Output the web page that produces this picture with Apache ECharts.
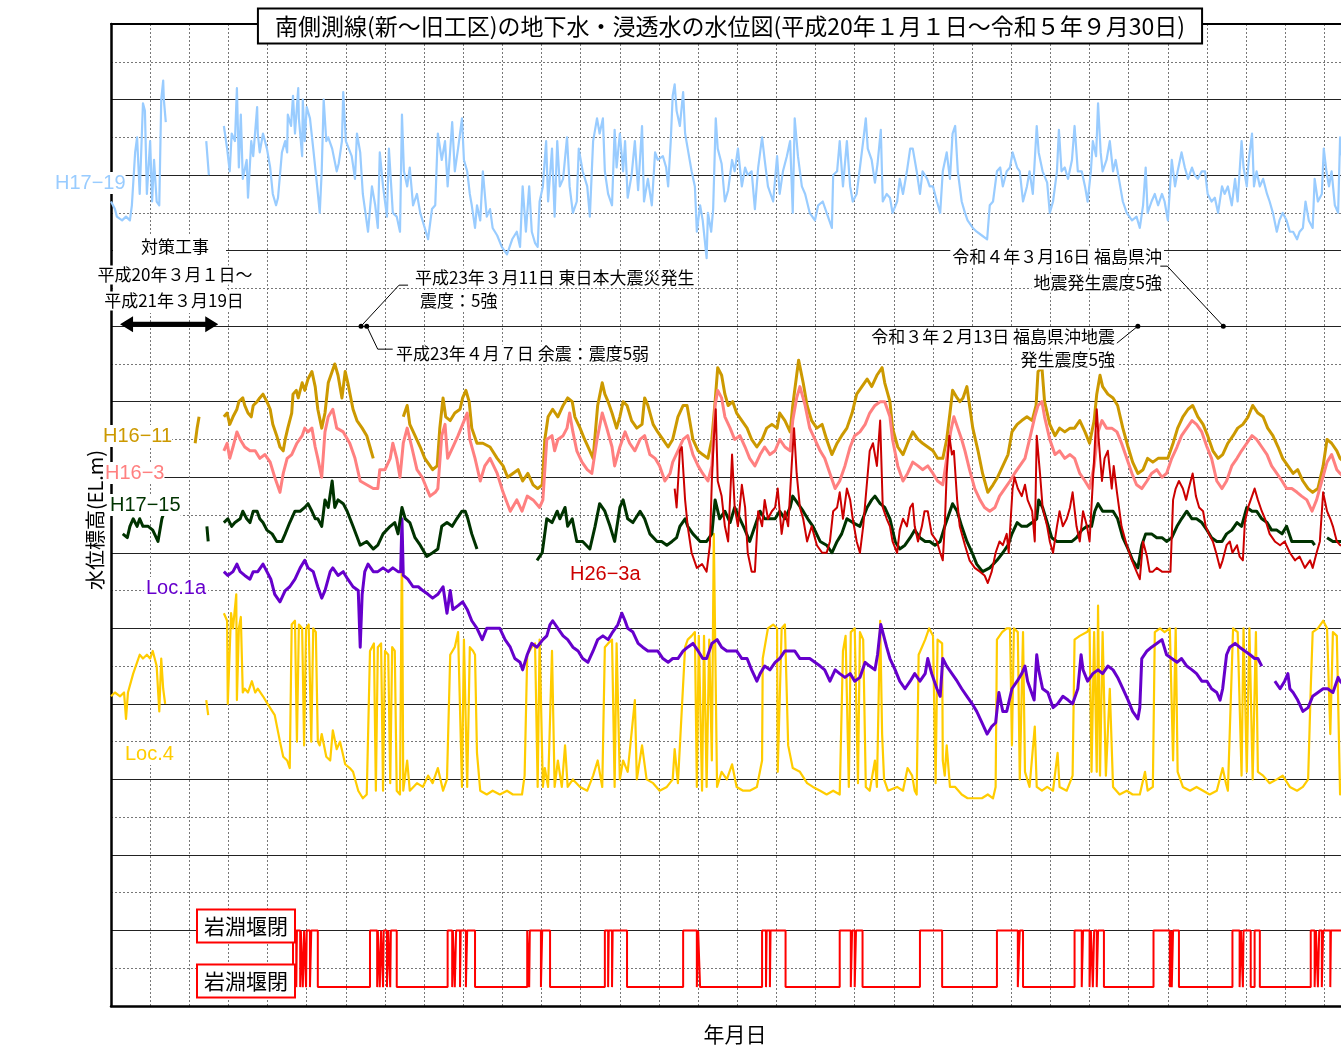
<!DOCTYPE html>
<html>
<head>
<meta charset="utf-8">
<script src="https://cdn.jsdelivr.net/npm/echarts@6/dist/echarts.min.js"></script>
<style>
html,body{margin:0;padding:0;background:#fff;overflow:hidden}
#chart{width:1341px;height:1049px}
</style>
</head>
<body>
<div id="chart"></div>
<script>
// Time axis: months elapsed since 2008-01-01 (0 .. 189 = 2023-09-30). Level axis: relative water level.
const X_MAX = 189;
const Y_MAX = 26;

// Observation wells, flat lists of [month, level] pairs; "null" marks a gap in the record.
const H17_19 = [0,21.3,0.6,21.1,0.9,20.9,1.7,20.8,2.3,20.9,2.9,20.8,3.2,21.2,3.7,22.6,4.0,23.0,4.4,21.5,4.9,23.9,5.2,23.7,5.5,21.5,6.0,22.9,6.3,21.3,6.6,22.4,7.0,21.3,7.4,21.2,7.7,24.0,8.0,24.5,8.1,24.0,8.4,23.4,11,null,14.6,22.9,15.0,22.0,16,null,
17.3,23.3,17.8,22.7,18.2,22.1,18.5,23.1,19.0,22.9,19.3,24.3,19.6,22.2,19.9,23.6,20.2,21.9,20.8,22.4,21.0,21.4,21.5,22.9,21.8,22.5,22.4,23.8,22.5,23.1,22.8,22.6,23.3,23.1,23.9,22.7,24.4,22.2,24.8,21.5,25.3,21.2,25.6,21.4,26.2,22.6,26.7,22.9,27.0,22.6,27.1,23.6,27.6,23.3,27.9,24.1,28.2,23.1,28.7,24.3,28.8,23.5,29.3,22.5,29.4,24.0,29.7,22.9,30.0,23.8,30.5,23.5,31.0,22.7,31.6,21.7,32.0,21.0,32.3,22.1,32.6,24.0,33.0,22.9,33.3,23.0,33.9,22.7,34.6,22.1,34.9,22.3,35.4,22.9,35.6,24.2,36.0,22.9,36.3,22.9,36.9,22.5,37.4,21.9,37.7,23.1,38.2,22.6,38.6,21.5,39.4,20.5,40.0,21.7,40.5,21.2,40.9,20.6,41.2,22.6,41.7,21.7,42.3,20.9,42.6,22.7,43.2,21.0,43.8,20.9,44.3,20.5,44.6,23.6,44.9,22.1,45.4,21.7,45.8,22.2,46.3,21.2,46.9,21.5,47.4,21.0,48.1,20.6,48.6,20.3,49.2,21.1,49.7,21.2,50.1,23.1,50.7,22.4,51.2,22.9,51.6,21.7,52.3,23.4,52.7,22.1,53.2,22.7,53.8,23.5,54.1,22.4,54.6,22.1,55.0,21.5,55.3,21.2,55.8,20.6,56.1,21.2,56.6,20.8,57.0,22.1,57.6,20.9,58.1,21.1,58.5,20.6,59.2,20.4,59.9,20.1,60.7,19.9,61.5,20.3,62.2,20.5,62.7,20.1,63.1,21.7,63.6,20.5,64.1,21.7,64.5,20.5,65.0,20.2,65.4,20.1,65.7,21.3,66.2,21.7,66.7,22.9,67.0,21.3,67.6,22.7,68.0,20.9,68.4,22.9,68.8,21.7,69.3,21.9,69.9,23.0,70.3,21.7,70.8,21.0,71.4,21.3,71.7,22.7,72.3,22.1,73.0,21.7,73.4,20.9,73.9,22.9,74.5,23.5,74.9,23.1,75.4,23.5,75.7,22.1,76.2,21.5,76.8,21.2,77.2,23.2,77.5,22.2,78.0,23.1,78.5,22.1,78.8,22.9,79.2,21.4,79.8,22.0,80.3,22.9,80.8,21.6,81.4,23.3,81.7,21.3,82.3,21.9,82.9,21.2,83.4,22.6,83.8,22.4,84.6,22.5,85.1,22.2,85.4,21.7,85.8,22.9,86.1,24.1,86.4,24.4,86.7,23.7,87.2,23.3,87.7,24.2,88.0,23.1,88.4,22.7,89.0,22.1,89.5,21.7,89.8,20.5,90.3,21.2,90.7,20.8,91.3,19.8,91.5,21.0,92.0,20.5,92.3,21.1,92.7,23.5,93.0,22.7,93.6,22.3,94.1,21.3,94.6,21.6,95.2,22.4,95.6,22.1,96.1,22.7,96.7,21.7,97.2,22.2,97.6,22.0,98.2,22.1,98.7,21.1,99.2,22.2,99.8,23.0,100.2,22.4,100.7,21.7,101.5,21.3,102.1,22.5,102.5,21.5,103.0,22.1,103.6,22.5,104.1,22.9,104.5,21.0,104.8,23.5,105.3,22.5,105.9,21.7,106.4,21.5,107.1,21.0,107.9,20.8,108.4,21.2,109.1,21.3,109.9,20.9,110.5,20.6,110.7,22.0,111.3,22.1,111.7,22.9,112.2,21.7,112.8,22.9,113.3,21.7,113.7,21.3,114.3,21.5,114.8,22.2,115.3,22.9,115.7,23.5,116.0,22.7,116.6,22.4,117.1,21.8,117.5,22.3,118.0,23.2,118.3,21.3,118.9,21.5,119.4,21.4,119.8,21.0,120.5,21.3,120.9,21.9,121.4,21.5,122.0,22.1,122.5,22.7,122.9,22.7,123.5,22.1,124.0,21.5,124.4,22.1,125.1,21.9,125.5,21.7,126.0,21.7,126.6,21.3,127.1,21.0,127.5,22.1,128.1,22.6,128.6,21.9,129.0,23.1,129.4,23.3,129.8,22.1,130.4,21.3,130.9,21.0,131.3,20.8,132.1,20.6,132.7,20.5,133.5,20.4,134.3,20.3,134.7,21.2,135.2,21.3,135.8,22.1,136.3,22.2,136.7,21.7,137.3,22.1,137.8,22.2,138.2,22.6,138.9,22.2,139.3,22.1,139.8,21.3,140.4,21.7,140.8,22.1,141.3,21.5,141.9,23.3,142.2,22.6,142.8,22.1,143.5,21.8,143.9,21.0,144.4,21.3,145.0,22.1,145.3,23.2,145.7,22.1,146.2,22.2,146.7,21.9,147.3,22.4,147.7,23.3,148.2,22.1,148.8,22.1,149.3,21.7,149.7,21.3,150.2,22.1,150.5,22.9,151.0,22.5,151.3,23.9,151.7,22.6,152.0,22.1,152.6,22.4,153.1,22.9,153.6,22.1,154.0,22.4,154.5,21.9,155.1,21.3,155.7,21.0,156.5,20.8,157.2,20.9,157.7,20.6,158.2,21.2,158.6,22.2,158.9,21.0,159.5,21.3,160.0,21.5,160.5,21.2,161.1,21.5,161.5,21.3,162.0,20.8,162.6,22.4,163.1,21.7,163.5,22.1,164.1,22.6,164.6,22.2,165.1,21.9,165.7,22.2,166.1,22.0,166.6,21.9,167.2,22.1,167.7,22.1,168.1,21.5,168.7,21.3,169.2,21.4,169.7,21.0,170.3,21.7,170.7,21.5,171.2,21.7,171.8,21.2,172.3,21.9,172.7,21.3,173.3,22.9,173.6,22.2,174.1,21.7,174.4,22.4,174.9,23.1,175.2,21.7,175.6,22.1,176.1,21.7,176.6,21.9,177.2,21.5,177.6,21.3,178.1,21.0,178.7,20.5,179.1,20.8,179.6,21.0,180.2,20.8,180.7,20.5,181.2,20.5,181.8,20.3,182.2,20.5,182.7,20.6,183.1,21.3,183.6,20.8,184.2,20.6,184.5,21.9,185.0,21.3,185.6,21.5,185.9,22.7,186.3,22.1,186.7,21.7,187.1,22.1,187.6,21.2,188.1,21.0,188.4,23.0,189,22.0];

const H16_11 = [12.9,14.9,13.2,15.3,13.5,15.6,15,null,
17.3,15.6,17.8,15.7,18.2,15.4,18.7,15.6,19.3,15.8,19.6,16.0,20.2,16.1,20.5,15.9,21.0,15.7,21.5,15.6,21.8,15.9,22.4,16.0,22.8,16.1,23.3,16.2,23.9,16.0,24.4,15.8,24.8,15.4,25.4,15.1,25.9,14.8,26.4,14.7,26.7,15.0,27.1,15.3,27.7,15.7,27.9,16.2,28.4,16.3,28.7,16.1,29.3,16.5,29.7,16.3,30.2,16.6,30.8,16.8,31.3,16.4,31.7,15.8,32.3,15.3,32.8,15.7,33.3,16.5,33.9,16.8,34.3,17.0,34.8,16.7,35.4,16.1,35.9,16.8,36.3,16.5,37.1,15.8,37.7,15.5,38.5,15.3,39.2,15.1,39.7,14.8,40.2,14.5,42,null,
44.8,15.6,45.4,15.9,45.8,15.4,46.6,15.1,47.4,14.8,48.1,14.5,48.9,14.3,49.3,14.2,50.0,14.3,50.4,15.3,50.9,16.1,51.3,15.6,52.0,15.5,52.7,15.7,53.5,15.8,53.9,16.1,54.4,16.3,54.9,16.0,55.3,15.3,56.1,14.9,57.0,14.9,58.1,14.8,59.2,14.5,60.1,14.3,60.8,14.0,61.6,14.1,62.4,14.2,63.1,13.9,63.9,14.1,64.7,13.8,65.4,13.7,66.1,13.8,66.5,15.0,67.0,15.6,67.7,15.8,68.5,15.6,69.3,15.9,70.0,16.1,70.7,16.0,71.1,15.6,71.9,15.3,72.6,15.0,73.4,14.7,73.9,14.5,74.6,15.9,75.3,16.5,75.7,16.2,76.2,16.0,76.8,15.7,77.5,15.3,78.0,15.6,78.5,16.0,79.1,15.9,79.8,15.5,80.6,15.3,81.4,15.4,81.8,16.1,82.3,15.9,83.1,15.4,83.8,15.2,84.6,15.0,85.4,14.8,86.1,15.0,86.9,15.6,87.7,15.9,88.3,15.9,88.7,15.5,89.2,15.0,90.0,14.7,90.7,14.6,91.5,14.5,92.1,15.0,92.6,16.0,93.0,16.9,93.6,16.7,94.1,16.2,94.6,15.9,95.3,16.0,95.9,15.7,96.7,15.5,97.5,15.3,98.2,15.0,99.0,14.8,99.8,15.0,100.5,15.3,101.3,15.4,102.1,15.3,102.5,15.7,103.3,15.5,104.1,15.2,104.5,15.9,105.1,16.7,105.4,17.1,106.1,16.5,106.7,15.9,107.4,15.5,108.2,15.3,109.0,15.4,109.7,15.0,110.5,14.6,111.3,14.9,112.0,15.1,112.8,15.3,113.6,15.7,114.3,16.2,115.1,16.4,115.9,16.6,116.6,16.4,117.4,16.7,118.2,16.9,118.6,16.5,119.4,16.0,119.8,15.3,120.6,14.8,121.4,14.6,122.1,14.9,122.9,15.2,123.7,15.0,124.4,14.9,125.2,14.8,126.0,14.7,126.7,14.5,127.5,14.5,128.1,15.0,128.6,15.7,129.0,16.3,129.7,16.1,130.1,16.0,130.6,16.1,131.2,16.4,131.6,15.9,132.1,15.3,132.9,14.7,133.6,14.1,134.4,13.6,135.2,13.8,135.9,14.0,136.7,14.3,137.5,14.6,138.1,15.2,138.9,15.4,139.6,15.5,140.4,15.6,141.2,15.5,141.8,15.9,142.1,16.8,142.7,16.9,143.1,16.0,143.9,15.4,144.7,15.1,145.4,15.3,146.2,15.2,147.0,15.3,147.7,15.3,148.5,15.5,149.3,15.2,150.0,14.9,150.7,15.5,151.1,16.2,151.6,16.7,152.0,16.4,152.8,16.2,153.6,16.1,154.3,15.9,155.1,15.3,155.9,14.8,156.6,14.4,157.4,14.1,158.2,14.2,158.9,14.5,159.7,14.4,160.5,14.5,161.2,14.5,162.0,14.5,162.8,14.9,163.5,15.3,164.3,15.6,165.1,15.8,165.8,15.9,166.6,15.6,167.4,15.4,168.1,15.1,168.9,14.7,169.7,14.5,170.4,14.6,171.2,14.9,172.0,15.1,172.7,15.3,173.5,15.4,174.3,15.6,175.0,15.9,175.8,15.7,176.6,15.6,177.3,15.3,178.1,15.1,178.9,14.8,179.6,14.5,180.4,14.3,181.2,14.1,181.9,14.2,182.7,13.9,183.5,13.7,184.2,13.6,185.0,13.7,185.8,14.3,186.4,15.0,187.1,14.9,187.9,14.7,188.4,14.5,189,14.4];

const H16_3 = [17.3,14.7,17.8,14.9,18.2,14.5,18.7,14.8,19.3,15.2,19.8,15.0,20.5,14.8,21.3,14.7,22.1,14.7,22.8,14.5,23.6,14.6,24.4,14.4,25.1,14.0,25.9,13.6,26.4,14.1,27.0,14.5,27.7,14.6,28.5,14.9,29.3,15.1,29.7,15.3,30.2,15.2,30.8,15.3,31.3,14.8,31.7,14.5,32.3,14.0,32.8,15.2,33.3,15.6,34.0,15.8,34.6,15.3,35.6,15.2,36.6,14.9,37.4,14.5,38.2,13.9,39.2,13.8,40.2,13.7,40.9,13.7,41.2,14.2,42.0,14.2,42.8,14.5,43.2,14.9,43.8,14.5,44.3,14.0,44.8,14.9,45.4,15.3,46.1,14.8,46.9,14.2,47.7,14.0,48.4,13.7,48.9,13.5,49.7,13.6,50.1,13.7,50.7,15.1,51.2,15.4,51.6,14.5,52.4,14.8,53.2,15.1,53.9,15.4,54.6,15.7,55.0,15.0,55.8,14.5,56.6,13.9,57.3,14.3,58.1,14.5,59.2,14.1,60.1,13.6,61.2,13.1,62.2,13.4,63.0,13.1,63.8,13.5,64.7,13.4,65.7,13.2,66.2,13.4,66.8,15.0,67.6,15.1,68.0,14.7,68.5,15.0,69.3,15.1,69.9,15.3,70.3,15.7,70.8,15.2,71.4,14.7,72.2,14.4,73.0,14.2,73.7,14.1,74.5,15.0,75.3,15.7,76.0,15.3,76.8,14.8,77.2,14.3,78.0,14.8,78.8,15.2,79.5,14.9,80.3,14.7,81.1,15.0,81.8,15.1,82.6,14.6,83.4,14.5,84.1,14.3,84.9,13.9,85.7,14.1,86.1,14.4,86.9,14.7,87.7,15.0,88.4,15.1,89.2,14.6,90.0,14.3,90.7,14.1,91.5,13.9,92.1,14.3,92.6,15.9,93.0,16.3,93.6,16.1,94.1,15.6,94.9,15.3,95.6,15.0,96.4,15.1,97.2,14.8,97.9,14.5,98.7,14.3,99.5,14.6,100.2,14.8,101.0,14.6,101.8,14.7,102.5,15.0,103.3,14.8,104.1,14.7,104.5,15.5,105.1,16.1,105.6,16.4,106.4,15.9,107.1,15.3,107.9,15.0,108.7,14.7,109.4,14.5,110.2,14.1,111.0,13.7,111.7,13.9,112.5,14.3,113.3,14.8,114.0,15.1,114.8,15.2,115.6,15.4,116.3,15.7,117.1,15.9,117.9,16.0,118.6,16.0,119.4,15.6,119.8,15.0,120.6,14.3,121.4,13.9,122.1,14.1,122.9,14.4,123.7,14.3,124.4,14.2,125.2,14.3,126.0,14.1,126.7,13.9,127.5,13.8,128.1,14.5,128.7,15.2,129.2,15.6,129.8,15.3,130.4,15.0,130.9,14.7,131.6,14.2,132.4,13.7,133.2,13.4,133.9,13.2,134.7,13.1,135.5,13.2,136.2,13.5,137.0,13.7,137.8,13.9,138.5,14.1,139.3,14.3,140.1,14.5,140.8,15.0,141.6,15.6,142.1,15.9,142.7,16.0,143.1,15.6,143.9,15.0,144.7,14.6,145.4,14.7,146.2,14.5,147.0,14.6,147.7,14.5,148.5,14.1,149.3,13.9,150.0,13.7,150.7,14.3,151.3,15.2,151.9,15.5,152.6,15.3,153.4,15.3,154.2,15.2,154.9,14.9,155.7,14.5,156.5,14.1,157.2,13.8,158.0,13.7,158.8,13.9,159.5,14.1,160.3,14.2,161.1,14.0,161.8,14.1,162.6,14.5,163.4,14.8,164.1,15.1,164.9,15.3,165.7,15.5,166.4,15.4,167.2,15.2,168.0,14.8,168.7,14.5,169.5,13.9,170.3,13.7,171.0,13.9,171.8,14.3,172.6,14.5,173.3,14.7,174.1,14.9,174.9,15.1,175.6,15.0,176.4,14.8,177.2,14.6,177.9,14.3,178.7,14.1,179.5,13.9,180.2,13.7,181.0,13.7,181.8,13.6,182.5,13.5,183.3,13.4,184.1,13.1,184.8,13.4,185.6,13.9,186.4,14.4,187.1,14.6,187.9,14.2,188.4,14.1,189,14.0];

const H17_15 = [1.8,12.5,2.5,12.4,2.9,12.7,3.4,12.9,4.0,12.7,4.4,12.9,4.9,12.7,5.7,12.7,6.4,12.6,7.2,12.3,7.8,12.9,8.0,13.0,11,null,14.7,12.7,14.9,12.3,16,null,
17.3,12.8,17.9,12.9,18.5,12.7,19.0,12.8,19.8,12.9,20.2,13.1,20.8,12.9,21.3,12.8,21.8,13.1,22.4,13.1,22.8,12.9,23.3,12.8,23.9,12.6,24.7,12.5,25.4,12.3,26.2,12.3,26.7,12.5,27.4,12.8,28.2,13.1,29.0,13.1,29.7,13.2,30.2,13.3,30.8,13.1,31.3,12.9,31.7,12.9,32.3,12.7,32.8,13.4,33.3,13.2,33.9,13.9,34.3,13.2,34.8,13.4,35.6,13.3,36.2,13.1,37.1,12.7,38.2,12.2,39.2,12.3,40.2,12.1,40.9,12.2,41.7,12.5,42.8,12.7,43.5,12.8,44.0,12.5,44.6,13.2,45.1,12.9,45.8,12.8,46.6,12.4,47.4,12.2,48.4,11.9,49.3,12.0,50.1,12.1,50.7,12.7,51.5,12.8,52.3,12.7,53.0,12.9,53.8,13.1,54.3,13.1,54.7,12.9,55.3,12.5,56.1,12.1,60,null,
65.3,11.8,66.1,12.0,66.8,12.9,67.6,12.8,68.4,13.1,68.8,12.9,69.6,13.2,70.0,12.7,70.7,12.9,71.4,12.3,72.3,12.3,73.4,12.1,74.2,12.7,74.9,13.3,75.7,13.1,76.5,12.7,77.2,12.3,78.0,13.2,78.5,13.4,79.2,12.9,80.0,12.8,81.1,13.1,81.8,12.9,82.6,12.5,83.7,12.3,84.4,12.3,85.2,12.2,86.0,12.3,86.7,12.4,87.2,12.7,88.0,12.9,88.4,12.7,89.2,12.5,90.3,12.3,91.3,12.3,92.1,12.5,92.6,13.4,93.3,12.9,94.1,13.1,94.9,12.8,95.6,13.2,96.4,12.9,97.2,12.6,97.9,12.3,98.7,12.7,99.5,13.1,100.2,12.9,101.0,12.9,101.8,12.9,102.5,13.1,103.3,12.9,104.1,13.2,104.5,13.5,105.3,13.3,106.1,13.1,106.8,12.9,107.6,12.7,108.7,12.3,109.7,12.2,110.5,12.0,111.3,12.3,112.0,12.5,112.8,12.9,113.7,12.8,114.8,12.7,115.9,13.2,116.6,13.4,117.1,13.5,117.9,13.3,118.6,13.2,119.4,12.9,120.2,12.3,120.9,12.1,121.7,12.2,122.5,12.4,123.2,12.6,124.0,12.4,124.8,12.3,125.5,12.3,126.3,12.2,127.1,12.3,127.8,12.7,128.6,13.1,129.0,13.3,129.7,13.1,130.4,12.7,131.2,12.3,132.0,12.0,132.7,11.7,133.6,11.5,134.7,11.6,135.8,11.8,136.7,12.0,137.5,12.2,138.1,12.5,138.9,12.8,139.6,12.7,140.4,12.7,141.2,12.8,141.9,12.9,142.2,13.4,142.8,13.2,143.5,12.8,144.2,12.4,145.0,12.3,145.7,12.3,146.5,12.3,147.3,12.3,148.0,12.4,148.8,12.6,149.6,12.7,150.3,12.7,150.8,13.1,151.3,13.3,152.0,13.1,152.8,13.1,153.6,13.1,154.3,12.9,155.1,12.4,155.9,12.1,156.6,11.8,157.4,11.6,158.0,12.2,158.6,12.5,159.5,12.5,160.3,12.4,161.1,12.4,161.8,12.3,162.6,12.4,163.4,12.7,164.1,12.9,164.9,13.1,165.7,12.9,166.4,12.9,167.2,12.8,168.0,12.6,168.7,12.4,169.5,12.3,170.3,12.3,171.0,12.5,171.8,12.6,172.6,12.8,173.3,12.7,174.1,13.2,174.9,13.1,175.6,13.1,176.4,12.9,177.2,12.8,177.9,12.6,178.7,12.6,179.5,12.5,180.2,12.7,181.0,12.3,181.8,12.3,182.5,12.3,183.3,12.3,184.1,12.3,184.5,12.2,185.5,null,186.4,12.4,187.3,12.3,188.4,12.3,189,12.3];

const H26_3A = [86.4,13.7,86.7,13.2,87.2,14.7,87.5,14.8,88.0,13.4,88.4,12.7,89.0,12.0,89.8,11.6,90.6,11.7,91.3,11.5,91.8,12.2,92.1,13.9,92.4,15.0,92.7,15.8,93.0,13.9,93.6,13.5,94.1,12.7,94.6,12.3,95.2,14.6,95.6,13.2,96.1,12.7,96.7,13.8,97.2,13.2,97.6,12.0,98.2,11.5,98.7,11.5,99.2,13.1,99.8,12.7,100.2,13.4,100.7,12.9,101.3,13.1,101.8,13.2,102.2,13.7,102.8,12.5,103.3,13.1,103.8,12.7,104.4,14.5,104.7,15.3,105.1,14.1,105.6,13.2,106.1,12.9,106.7,12.3,107.4,12.7,108.2,12.2,109.0,12.0,109.7,12.0,110.2,12.3,110.7,13.1,111.3,13.2,111.7,13.6,112.2,12.9,112.8,13.7,113.3,13.4,113.7,12.9,114.3,12.3,114.8,12.0,115.3,12.7,115.9,13.9,116.3,14.7,116.8,14.9,117.4,14.3,117.9,15.5,118.3,13.2,118.9,12.9,119.4,12.7,119.8,12.3,120.5,12.0,120.9,12.6,121.4,12.9,122.0,12.7,122.5,13.2,122.9,13.3,123.2,12.7,123.7,12.3,124.3,12.7,124.7,13.1,125.2,13.1,125.8,12.5,126.6,12.3,127.1,12.0,127.5,11.8,127.8,12.7,128.1,14.1,128.5,15.1,128.9,14.6,129.2,14.7,129.7,13.4,130.1,12.7,130.9,12.2,131.6,11.8,132.4,11.6,133.2,11.5,133.9,11.4,134.4,11.2,135.0,11.5,135.6,12.0,136.2,12.3,136.7,12.2,137.3,12.5,137.6,12.0,138.2,13.7,138.5,14.0,139.0,13.7,139.6,13.5,140.1,13.8,140.5,13.4,141.2,13.1,141.6,12.3,141.9,15.1,142.4,14.1,142.8,13.2,143.5,12.7,143.9,12.3,144.4,12.0,145.0,12.7,145.4,13.1,145.9,12.7,146.5,12.9,147.0,13.2,147.4,13.6,148.0,12.7,148.5,12.3,149.0,13.1,149.6,12.7,150.0,12.3,150.3,12.3,150.7,14.5,151.1,15.8,151.4,15.0,151.9,13.9,152.3,14.5,152.8,14.7,153.4,13.7,153.7,14.3,154.2,13.6,154.9,12.7,155.7,12.2,156.5,11.8,157.2,11.5,157.7,11.3,158.2,12.3,158.8,11.9,159.2,11.5,159.7,11.5,160.3,11.6,161.1,11.5,161.8,11.5,162.4,11.5,162.8,13.4,163.2,13.7,163.7,13.9,164.3,13.7,164.8,13.4,165.2,13.7,165.8,14.1,166.3,13.5,166.8,13.2,167.4,13.1,167.8,12.7,168.3,12.5,168.9,12.3,169.4,12.0,170.0,11.6,170.4,11.8,171.0,12.2,171.5,12.3,171.9,12.0,172.6,12.2,173.0,11.9,173.5,11.8,173.8,12.8,174.3,13.2,174.9,13.5,175.3,13.7,175.8,13.4,176.4,13.1,176.9,12.9,177.6,12.5,178.4,12.3,179.2,12.2,179.9,12.3,180.7,12.0,181.5,11.8,182.2,11.9,183.0,11.6,183.8,11.8,184.2,11.6,184.8,12.0,185.3,12.3,185.8,13.6,186.4,13.1,186.9,12.9,187.3,12.7,187.9,12.3,188.4,12.2,189,12.2];

const LOC_1A = [17.3,11.5,17.9,11.4,18.7,11.5,19.3,11.7,19.8,11.5,20.5,11.4,21.3,11.3,21.8,11.5,22.5,11.5,23.3,11.7,23.9,11.5,24.5,11.3,25.1,10.9,25.9,10.7,26.7,11.0,27.4,11.1,28.2,11.3,29.0,11.6,29.7,11.8,30.2,11.6,31.0,11.5,31.7,11.1,32.3,10.8,32.8,11.0,33.6,11.5,34.0,11.6,34.8,11.4,35.6,11.5,36.3,11.3,37.1,11.1,37.9,11.0,38.2,9.5,38.5,10.9,38.9,11.5,39.4,11.7,40.2,11.5,40.9,11.5,41.7,11.6,42.5,11.5,43.2,11.6,44.0,11.5,44.4,11.5,44.6,12.9,44.8,11.4,45.5,11.3,46.3,11.1,47.1,11.1,47.8,11.0,48.6,10.9,49.3,10.8,50.1,10.9,50.9,11.1,51.5,10.4,52.0,11.0,52.4,10.5,53.2,10.6,53.9,10.7,54.6,10.5,55.3,10.2,56.1,10.0,56.9,9.7,57.6,10.0,58.5,10.0,59.6,10.0,60.4,9.7,61.2,9.5,61.9,9.2,62.7,9.1,63.1,8.9,63.8,9.3,64.5,9.6,65.3,9.5,66.2,9.7,66.8,9.8,67.3,10.1,67.7,10.2,68.5,10.0,69.3,9.8,70.0,9.7,70.8,9.5,71.6,9.4,72.3,9.2,73.1,9.1,73.9,9.4,74.6,9.7,75.4,9.8,76.2,9.7,76.9,9.9,77.7,10.1,78.3,10.4,78.8,10.2,79.2,10.0,80.0,9.9,80.8,9.6,81.5,9.5,82.3,9.4,83.1,9.4,83.8,9.4,84.6,9.2,85.4,9.1,86.1,9.2,86.9,9.2,87.7,9.4,88.4,9.5,89.2,9.6,90.0,9.4,90.7,9.2,91.3,9.2,92.1,9.6,92.9,9.7,93.6,9.5,94.4,9.4,95.2,9.4,95.9,9.4,96.7,9.2,97.5,9.2,98.2,8.9,99.0,8.6,99.5,8.8,100.2,9.0,101.0,8.9,101.8,9.1,102.5,9.2,103.3,9.4,104.1,9.4,104.8,9.4,105.6,9.2,106.4,9.2,107.1,9.2,107.9,9.1,108.7,9.0,109.4,8.9,110.2,8.6,111.0,8.9,111.7,8.8,112.5,8.7,113.3,8.8,114.0,8.6,114.8,8.7,115.6,9.1,116.3,9.0,117.1,8.9,117.5,9.3,118.0,10.1,118.3,9.9,118.9,9.5,119.4,9.2,120.2,8.9,120.9,8.6,121.7,8.4,122.5,8.6,123.2,8.8,124.0,8.6,124.8,8.8,125.2,9.2,125.8,8.8,126.6,8.4,127.1,8.2,127.5,9.2,128.1,9.0,128.9,8.8,129.7,8.6,130.4,8.4,131.2,8.2,132.0,8.0,132.7,7.8,133.5,7.5,134.3,7.2,135.0,7.4,135.6,7.5,136.1,8.3,136.7,7.8,137.3,7.8,138.1,8.4,138.9,8.6,139.6,8.8,140.1,9.0,140.5,8.6,141.1,8.3,141.5,8.1,141.9,9.3,142.2,8.9,142.8,8.4,143.6,8.3,144.4,7.9,145.1,8.0,145.9,8.2,146.7,8.1,147.4,8.0,148.2,8.4,148.7,9.3,149.0,8.9,149.7,8.6,150.5,8.8,151.3,8.9,152.0,8.8,152.8,9.0,153.6,8.9,154.3,8.7,155.1,8.4,155.9,8.1,156.6,7.8,157.4,7.6,157.7,7.9,158.0,9.2,158.8,9.4,159.5,9.5,160.3,9.6,161.1,9.7,161.8,9.3,162.6,9.2,163.4,9.1,164.1,9.2,164.9,9.0,165.7,8.9,166.4,8.8,167.2,8.6,168.0,8.6,168.7,8.4,169.5,8.3,170.0,8.1,170.4,8.4,171.0,9.3,171.5,9.5,172.3,9.6,173.0,9.5,173.8,9.4,174.6,9.3,175.3,9.2,175.8,9.2,176.4,9.0,177,null,178.4,8.6,179.2,8.4,179.9,8.6,180.4,8.8,180.7,8.4,181.2,8.3,181.9,8.1,182.7,7.8,183.5,7.9,184.2,8.2,185.0,8.3,185.8,8.4,186.5,8.4,187.3,8.3,188.1,8.7,188.4,8.6,189,8.5];

const LOC_4 = [0,8.2,0.6,8.3,1.4,8.2,2.0,8.3,2.3,7.6,2.6,8.3,3.4,8.8,4.0,9.1,4.4,9.3,4.9,9.2,5.5,9.3,6.0,9.2,6.4,9.4,7.0,9.0,7.4,7.8,7.7,9.2,8.0,8.4,8.3,8.0,11,null,14.6,8.1,14.9,7.7,16,null,
17.3,10.4,17.8,10.2,17.9,8.0,18.4,10.4,18.7,10.0,19.2,10.9,19.3,8.1,19.6,10.0,19.9,10.3,20.2,8.3,20.5,8.4,21.0,8.3,21.6,8.6,22.1,8.3,22.5,8.4,23.3,8.2,24.0,8.0,25.1,7.7,25.9,7.0,26.4,6.6,27.0,6.5,27.4,6.3,27.7,10.1,28.2,10.2,28.5,7.0,28.8,10.1,29.3,10.0,29.6,6.9,29.9,10.0,30.3,10.1,30.7,7.0,31.0,10.0,31.4,9.9,31.7,7.0,32.0,6.9,32.3,7.2,33.0,6.6,33.6,6.5,34.0,7.3,34.6,6.8,35.1,7.0,35.9,6.4,36.6,6.3,37.1,6.2,37.9,5.7,38.6,5.5,39.2,5.6,39.7,9.4,40.3,9.6,40.6,5.7,40.9,9.5,41.4,9.6,41.7,5.7,42.0,9.4,42.5,9.3,42.8,5.9,43.1,9.5,43.5,9.4,43.8,5.7,44.3,5.6,44.6,12.5,44.8,5.7,45.4,6.5,45.8,5.7,46.9,5.9,47.8,5.8,48.6,6.1,49.3,5.9,50.1,6.3,50.9,5.7,51.5,6.0,52.0,9.3,52.7,9.5,53.2,9.9,53.8,5.8,54.1,9.7,54.6,5.8,55.0,9.5,55.5,9.4,55.8,9.3,56.1,6.7,56.6,5.7,57.6,5.6,58.5,5.7,59.6,5.6,60.7,5.7,61.6,5.6,63.0,5.6,63.4,6.1,63.8,9.3,64.5,9.5,65.0,9.6,65.4,5.8,65.7,9.7,66.2,5.8,66.5,6.3,67.0,5.8,67.6,9.4,68.0,5.8,68.5,6.5,69.1,5.8,69.6,6.9,70.0,5.8,70.8,6.0,71.9,5.8,73.0,5.7,73.9,6.1,74.6,6.5,75.3,5.8,75.7,9.5,76.2,9.6,76.8,9.7,77.2,5.8,77.5,9.6,78.0,6.0,78.5,6.5,79.2,6.2,80.3,8.1,80.6,6.0,81.4,6.9,82.1,6.0,83.1,5.9,84.1,5.7,85.2,5.8,86.1,6.0,86.4,6.8,86.9,5.9,88.0,9.5,88.4,9.7,89.0,9.8,89.5,9.9,89.8,5.8,90.1,9.8,90.6,5.7,90.9,9.8,91.3,5.8,91.7,9.7,92.1,6.5,92.4,12.5,92.9,5.8,93.6,6.2,94.4,6.0,95.2,6.4,95.9,5.8,96.9,5.7,97.9,5.7,99.0,5.8,99.8,6.5,99.9,9.2,100.7,10.0,101.5,10.1,102.1,10.0,102.2,6.2,102.8,10.0,103.3,10.1,103.8,6.9,104.1,6.9,104.5,6.3,105.6,6.2,106.7,5.9,107.6,5.8,108.7,5.7,109.7,5.6,110.7,5.7,111.7,5.6,112.2,9.4,112.6,9.8,113.1,5.8,113.4,9.9,114.0,10.0,114.5,5.9,114.8,9.9,115.3,9.7,115.7,5.8,116.3,5.7,117.1,6.5,117.4,5.8,117.9,10.2,118.2,7.2,118.5,6.0,119.1,5.7,120.5,5.8,121.4,5.7,122.1,6.3,122.8,6.1,123.2,5.7,123.5,5.6,123.8,9.3,124.3,9.5,124.8,9.7,125.4,10.0,126.0,9.8,126.4,5.9,126.7,9.7,127.4,9.6,127.5,6.5,127.8,6.1,128.1,6.9,128.6,5.8,129.4,5.8,130.4,5.6,131.3,5.5,132.4,5.5,133.5,5.5,134.4,5.6,135.2,5.5,135.6,5.8,135.8,9.7,136.6,9.9,137.3,10.0,137.8,10.0,138.1,6.9,138.4,10.0,139.0,9.9,139.3,6.0,139.8,9.9,140.1,6.2,140.8,5.8,141.6,7.4,141.9,5.8,142.7,5.7,143.5,5.8,144.4,5.7,145.1,6.7,145.4,5.8,146.5,5.7,147.4,6.1,147.7,9.7,148.5,9.8,149.6,9.9,150.0,10.0,150.3,6.2,150.7,9.9,151.1,6.2,151.3,10.6,151.6,6.1,152.0,9.9,152.5,6.1,153.1,8.4,153.6,5.8,154.6,5.6,155.7,5.7,156.6,5.6,157.7,5.6,158.5,6.2,158.9,5.7,159.7,5.8,160.0,9.9,160.8,10.0,161.5,9.9,162.3,10.0,162.8,6.5,163.2,10.0,163.5,6.2,164.3,5.8,165.4,5.7,166.4,5.8,167.4,5.7,168.4,5.6,169.5,5.7,170.4,6.3,170.9,5.9,171.2,5.7,172.0,10.0,172.7,9.9,173.3,6.1,173.6,10.0,174.1,6.2,174.5,10.0,175.0,6.0,175.5,9.9,175.8,6.2,176.6,6.1,177.6,5.9,178.7,6.0,179.6,6.1,180.7,5.8,181.8,5.7,182.7,5.8,183.5,6.0,183.9,8.4,184.2,9.9,185.0,10.0,185.8,10.2,186.4,10.0,186.9,7.2,187.3,9.9,187.9,9.8,188.4,5.6,189,5.7];

// Iwabuchi weir: closed / open levels and the months at which its state switches.
const GATE_OPEN = 0.5;
const GATE_CLOSED = 2;
const GATE_START = 27.9;
const GATE_SWITCH = [27.9,28.4,28.5,29.0,29.1,29.4,29.6,29.9,30.0,30.5,30.7,31.7,
39.7,40.8,40.9,41.2,41.4,41.7,41.8,42.3,42.5,42.8,42.9,43.8,
51.6,52.3,52.4,52.7,52.9,53.5,53.6,54.4,54.6,55.8,
63.8,64.1,64.2,65.9,66.1,67.3,
75.7,76.2,76.3,76.8,76.9,79.1,
87.7,89.8,90.0,90.3,
99.8,100.4,100.5,101.0,101.1,103.4,
111.7,113.4,113.6,114.0,114.2,115.2,
124.0,127.4,
135.8,139.0,139.3,139.8,
147.7,148.8,149.0,150.0,150.2,150.5,150.7,151.1,151.3,152.2,
159.8,162.3,162.5,162.6,162.8,163.7,
171.9,173.0,173.2,173.5,173.6,174.7,175.3,176.1,
183.9,184.5,184.7,185.0,185.2,185.6,185.8,186.9,187.0];

// Earthquakes (month of event) and the countermeasure works period.
const EVENT_LEVEL = 18;
const QUAKE_0311 = 38.33;   // 2011-03-11
const QUAKE_0407 = 39.2;    // 2011-04-07
const QUAKE_2021 = 157.4;   // 2021-02-13
const QUAKE_2022 = 170.5;   // 2022-03-16
const WORKS = [2.0, 14.6];  // 2008-03-01 .. 2009-03-19

const TITLE = '南側測線(新～旧工区)の地下水・浸透水の水位図(平成20年１月１日～令和５年９月30日)';

function pairs(flat) {
  const out = [];
  for (let i = 0; i < flat.length; i += 2) {
    out.push([flat[i], flat[i + 1] === null ? '-' : flat[i + 1]]);
  }
  return out;
}
function gateData() {
  let lv = GATE_OPEN;
  const d = [[GATE_START, lv]];
  GATE_SWITCH.forEach(t => {
    lv = lv === GATE_OPEN ? GATE_CLOSED : GATE_OPEN;
    d.push([t, lv]);
  });
  d.push([X_MAX, lv]);
  return d;
}

const CJK = '"Noto Sans CJK JP","Noto Sans",sans-serif';
const LAT = '"Liberation Sans",Arial,sans-serif';

function line(name, flat, color, width) {
  return {
    name, type: 'line', data: pairs(flat), showSymbol: false, symbol: 'none',
    connectNulls: false, sampling: null, animation: false,
    lineStyle: { color, width: width || 2, join: 'round' }, itemStyle: { color },
    emphasis: { disabled: true }
  };
}

const chart = echarts.init(document.getElementById('chart'), null, { renderer: 'canvas' });

chart.setOption({
  animation: false,
  backgroundColor: '#fff',
  grid: { left: 111, top: 24, width: 1233, height: 982, containLabel: false, outerBoundsMode: 'none' },
  xAxis: [
    {
      type: 'value', min: 0, max: X_MAX, interval: 6, position: 'bottom',
      axisLine: { show: true, onZero: false, lineStyle: { color: '#000', width: 2.5 } },
      axisTick: { show: false }, axisLabel: { show: false },
      splitLine: { show: true, lineStyle: { color: '#777', width: 1, type: [2, 2] } }
    },
    {
      type: 'value', min: 0, max: X_MAX, interval: 6, position: 'top',
      axisLine: { show: true, onZero: false, lineStyle: { color: '#000', width: 2 } },
      axisTick: { show: false }, axisLabel: { show: false }, splitLine: { show: false }
    }
  ],
  yAxis: {
    type: 'value', min: 0, max: Y_MAX, interval: 2,
    axisLine: { show: true, onZero: false, lineStyle: { color: '#000', width: 2.5 } },
    axisTick: { show: false }, axisLabel: { show: false },
    splitLine: { show: true, lineStyle: { color: '#222', width: 1.2 } },
    minorTick: { show: false, splitNumber: 2 },
    minorSplitLine: { show: true, lineStyle: { color: '#777', width: 1, type: [2, 2] } }
  },
  series: [
    line('Loc.4', LOC_4, '#FFCC00', 2.2),
    line('Loc.1a', LOC_1A, '#6600CC', 3),
    line('H17-19', H17_19, '#99CCFF', 2.2),
    line('H16-11', H16_11, '#CC9900', 3),
    line('H16-3', H16_3, '#FF8080', 3),
    line('H17-15', H17_15, '#003300', 3),
    line('H26-3a', H26_3A, '#CC0000', 2),
    {
      name: '岩淵堰閉', type: 'line', step: 'end', data: gateData(), showSymbol: false,
      symbol: 'none', animation: false, lineStyle: { color: '#FF0000', width: 2 },
      emphasis: { disabled: true }
    }
  ]
});

// Annotations, labels and leader lines
const px = (m, v) => chart.convertToPixel({ gridIndex: 0 }, [m, v]);
const g = [];
function text(str, x, y, o) {
  g.push({
    type: 'text', x, y, z: 100,
    style: Object.assign({
      text: str, font: '17px ' + CJK, fill: '#000', align: 'left', verticalAlign: 'middle',
      backgroundColor: '#fff', padding: [1, 2]
    }, o || {})
  });
}

// Title box
text(TITLE, 730, 26, { font: '23px ' + CJK, align: 'center', borderColor: '#000', borderWidth: 2, padding: [5, 16] });

// Axis names
g.push({ type: 'text', x: 95, y: 520, rotation: Math.PI / 2, z: 100,
  style: { text: '水位標高(EL.m)', font: '20px ' + CJK, fill: '#000', align: 'center', verticalAlign: 'middle' } });
text('年月日', 735, 1034, { font: '21px ' + CJK, align: 'center', backgroundColor: null });

// Series labels
const LAB = '20px ' + LAT;
text('H17−19', 55, 183, { font: LAB, fill: '#99CCFF', padding: [1, 0] });
text('H16−11', 103, 436, { font: LAB, fill: '#CC9900', padding: [1, 0] });
text('H16−3', 105, 473, { font: LAB, fill: '#FF8080', padding: [1, 0] });
text('H17−15', 110, 505, { font: LAB, fill: '#003300', padding: [1, 0] });
text('Loc.1a', 144, 588, { font: LAB, fill: '#6600CC', padding: [1, 2] });
text('Loc.4', 123, 754, { font: LAB, fill: '#FFCC00', padding: [1, 2] });
text('H26−3a', 568, 574, { font: LAB, fill: '#CC0000', padding: [2, 2] });

// Countermeasure works
g.push({ type: 'rect', z: 90, shape: { x: 113, y: 236, width: 113, height: 77 }, style: { fill: '#fff' } });
text('対策工事', 175, 247, { align: 'center' });
text('平成20年３月１日～', 175, 275, { align: 'center' });
text('平成21年３月19日', 174, 301, { align: 'center' });
{
  const y = px(0, EVENT_LEVEL)[1] - 2;
  const x1 = px(WORKS[0], EVENT_LEVEL)[0] - 4;
  const x2 = px(WORKS[1], EVENT_LEVEL)[0] + 12;
  const h = 13, w = 8, s = 2.5;
  g.push({ type: 'polygon', z: 100, shape: { points: [
    [x1, y], [x1 + h, y - w], [x1 + h, y - s], [x2 - h, y - s], [x2 - h, y - w], [x2, y],
    [x2 - h, y + w], [x2 - h, y + s], [x1 + h, y + s], [x1 + h, y + w]] }, style: { fill: '#000' } });
}

// Earthquake markers with leader lines
function dot(p) { g.push({ type: 'circle', z: 101, shape: { cx: p[0], cy: p[1], r: 2.5 }, style: { fill: '#000' } }); }
function lead(pts) { g.push({ type: 'polyline', z: 101, shape: { points: pts }, style: { stroke: '#000', lineWidth: 1, fill: null } }); }

const q1 = px(QUAKE_0311, EVENT_LEVEL);
dot(q1); lead([q1, [q1[0] + 38, q1[1] - 41], [q1[0] + 47, q1[1] - 41]]);
text('平成23年３月11日 東日本大震災発生', 413, 278);
text('震度：5強', 418, 301);

const q2 = px(QUAKE_0407, EVENT_LEVEL);
dot(q2); lead([q2, [q2[0] + 11, q2[1] + 23], [q2[0] + 26, q2[1] + 23]]);
text('平成23年４月７日 余震：震度5弱', 394, 354);

const q3 = px(QUAKE_2021, EVENT_LEVEL);
dot(q3); lead([q3, [q3[0] - 21, q3[1] + 17]]);
text('令和３年２月13日 福島県沖地震', 1117, 337, { align: 'right' });
text('発生震度5強', 1117, 360, { align: 'right' });

const q4 = px(QUAKE_2022, EVENT_LEVEL);
dot(q4); lead([q4, [q4[0] - 56, q4[1] - 60], [q4[0] - 63, q4[1] - 60]]);
text('令和４年３月16日 福島県沖', 1164, 257, { align: 'right' });
text('地震発生震度5強', 1164, 283, { align: 'right' });

// Weir state labels
text('岩淵堰閉', 246, 926, { font: '21px ' + CJK, align: 'center', borderColor: '#FF0000', borderWidth: 2, padding: [5, 6] });
text('岩淵堰閉', 246, 981, { font: '21px ' + CJK, align: 'center', borderColor: '#FF0000', borderWidth: 2, padding: [5, 6] });

chart.setOption({ graphic: g });
</script>
</body>
</html>
